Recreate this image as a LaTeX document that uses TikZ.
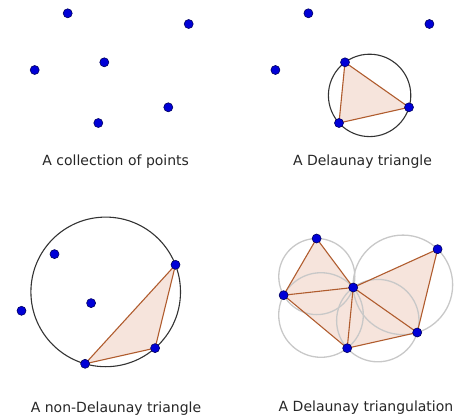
\documentclass[tikz,border=0pt]{standalone}
\usepackage{fontspec}
\setmainfont{DejaVu Sans}
\usetikzlibrary{backgrounds}
\definecolor{ptfill}{RGB}{0,0,215}
\definecolor{ptdraw}{RGB}{0,0,95}
\definecolor{trifill}{RGB}{246,228,220}
\definecolor{triedge}{RGB}{176,92,46}
\definecolor{lightcirc}{RGB}{200,200,200}
\tikzset{
  pt/.style={circle, inner sep=0pt, minimum size=9pt, fill=ptfill, draw=ptdraw, line width=0.6pt},
  tri/.style={fill=trifill},
  edge/.style={draw=triedge, line width=1.1pt, line join=round},
  bigcirc/.style={draw=black!80, line width=1.1pt},
  graycirc/.style={draw=lightcirc, line width=1.3pt},
  caption/.style={anchor=base, inner sep=0pt, font=\fontsize{14}{16}\selectfont, text=black!85}
}
\newcommand\pointset[1]{%
  \node[pt] (#11) at (67.7,13.3) {};
  \node[pt] (#12) at (188.7,24) {};
  \node[pt] (#13) at (34.7,70) {};
  \node[pt] (#14) at (104.3,62.3) {};
  \node[pt] (#15) at (168.3,107.3) {};
  \node[pt] (#16) at (98.3,123) {};
}
\begin{document}
\begin{tikzpicture}[x=1pt,y=-1pt]
\useasboundingbox (0,0) rectangle (457,417);
% panel 1
\begin{scope}
  \pointset{a}
\end{scope}
\node[caption] (capa) at (115.7,165.5) {A collection of points};
% panel 2
\begin{scope}[shift={(240.7,0)}]
  \pointset{b}
  \coordinate (bc) at (128.9,95.4);
  \begin{pgfonlayer}{background}
    \draw[bigcirc] (bc) circle[radius=41.2pt];
    \fill[tri] (b4.center) -- (b5.center) -- (b6.center) -- cycle;
    \draw[edge] (b4.center) -- (b5.center) -- (b6.center) -- cycle;
  \end{pgfonlayer}
\end{scope}
\node[caption] (capb) at (362.5,165.5) {A Delaunay triangle};
% panel 3
\begin{scope}[shift={(-13.2,240.8)}]
  \pointset{c}
  \coordinate (cc) at (118.9,51.1);
  \begin{pgfonlayer}{background}
    \draw[bigcirc] (cc) circle[radius=74.8pt];
    \fill[tri] (c2.center) -- (c5.center) -- (c6.center) -- cycle;
    \draw[edge] (c2.center) -- (c5.center) -- (c6.center) -- cycle;
  \end{pgfonlayer}
\end{scope}
\node[caption] (capc) at (116,412.5) {A non-Delaunay triangle};
% panel 4
\begin{scope}[shift={(248.9,225.2)}]
  \pointset{d}
  \coordinate (dc1) at (67.9,51.35);
  \coordinate (dc2) at (72.1,89.8);
  \coordinate (dc3) at (128.9,95.4);
  \coordinate (dc4) at (154,59.65);
  \begin{pgfonlayer}{background}
    \fill[trifill] (d1.center) -- (d4.center) -- (d2.center) -- (d5.center) -- (d6.center) -- (d3.center) -- cycle;
    \draw[graycirc] (dc1) circle[radius=38.05pt];
    \draw[graycirc] (dc2) circle[radius=42.3pt];
    \draw[graycirc] (dc3) circle[radius=41.2pt];
    \draw[graycirc] (dc4) circle[radius=49.76pt];
    \draw[edge] (d1.center) -- (d3.center);
    \draw[edge] (d1.center) -- (d4.center);
    \draw[edge] (d3.center) -- (d4.center);
    \draw[edge] (d3.center) -- (d6.center);
    \draw[edge] (d4.center) -- (d6.center);
    \draw[edge] (d4.center) -- (d2.center);
    \draw[edge] (d2.center) -- (d5.center);
    \draw[edge] (d4.center) -- (d5.center);
    \draw[edge] (d5.center) -- (d6.center);
  \end{pgfonlayer}
\end{scope}
\node[caption] (capd) at (366,411.7) {A Delaunay triangulation};
\end{tikzpicture}
\end{document}
